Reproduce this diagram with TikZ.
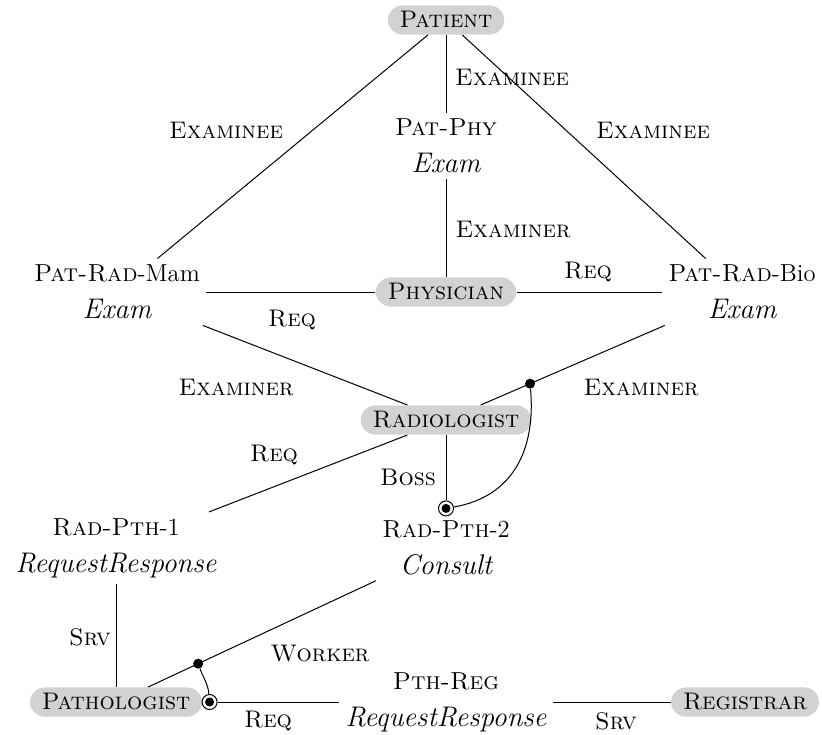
\documentclass[tikz,border=0pt]{standalone}
\usetikzlibrary{calc}
\newcommand\relit[1]{{\fontsize{14.2}{18.5}\selectfont\itshape #1}}
\begin{document}
\begin{tikzpicture}[x=0.5pt,y=-0.5pt,
  role/.style={fill=gray!35, rounded corners=7.5pt, inner xsep=6pt, inner ysep=2.8pt,
    text height=8.4pt, text depth=0.6pt, font=\fontsize{12}{14}\selectfont},
  rel/.style={align=center, inner sep=3pt, font=\fontsize{12.3}{18.5}\selectfont},
  lbl/.style={inner sep=1pt, font=\fontsize{12}{14}\selectfont},
  conn/.style={line width=0.5pt},
  dotmark/.style={circle, fill=black, inner sep=0pt, minimum size=5pt},
  ringmark/.style={circle, draw=black, line width=0.5pt, inner sep=0pt, minimum size=7.5pt}]
\useasboundingbox (0,0) rectangle (822,734);
% nodes
\node[role] (pat) at (446,20) {\textsc{Patient}};
\node[rel] (patphy) at (446,146) {\textsc{Pat-Phy}\\\relit{Exam}};
\node[role] (phys) at (446,292) {\textsc{Physician}};
\node[rel] (mam) at (117,292) {\textsc{Pat-Rad}-Mam\\\relit{Exam}};
\node[rel] (bio) at (742,292) {\textsc{Pat-Rad}-Bio\\\relit{Exam}};
\node[role] (rad) at (446,420) {\textsc{Radiologist}};
\node[rel] (rp1) at (116,548) {\textsc{Rad-Pth}-1\\\relit{RequestResponse}};
\node[rel] (rp2) at (446,548) {\textsc{Rad-Pth}-2\\\relit{Consult}};
\node[role] (path) at (116,702) {\textsc{Pathologist}};
\node[rel] (pthreg) at (446,702) {\textsc{Pth-Reg}\\\relit{RequestResponse}};
\node[role] (reg) at (745,702) {\textsc{Registrar}};
% ring markers
\node[ringmark] (c1) at ($(rp2.north)+(0,-6)$) {};
\node[ringmark] (c2) at ($(path.east)+(7,0)$) {};
% connectors
\draw[conn] (pat) -- (patphy) node[lbl] at (512,77) {\textsc{Examinee}};
\draw[conn] (pat) -- (mam) node[lbl] at (226,130) {\textsc{Examinee}};
\draw[conn] (pat) -- (bio) node[lbl] at (653,130) {\textsc{Examinee}};
\draw[conn] (patphy) -- (phys) node[lbl] at (513,230) {\textsc{Examiner}};
\draw[conn] (phys) -- (mam) node[lbl] at (292,320) {\textsc{Req}};
\draw[conn] (phys) -- (bio) node[lbl] at (588,272) {\textsc{Req}};
\draw[conn] (mam) -- (rad) node[lbl] at (236,387) {\textsc{Examiner}};
\draw[conn] (bio) -- (rad) node[lbl] at (641,387) {\textsc{Examiner}};
\draw[conn] (rad) -- (rp1) node[lbl] at (274,455) {\textsc{Req}};
\draw[conn] (rad) -- (c1) node[lbl] at (408,477) {\textsc{Boss}};
\draw[conn] (rp1) -- (path) node[lbl] at (90,637) {\textsc{Srv}};
\draw[conn] (rp2) -- (path) node[lbl] at (320,654) {\textsc{Worker}};
\draw[conn] (c2) -- (pthreg) node[lbl] at (268,721) {\textsc{Req}};
\draw[conn] (pthreg) -- (reg) node[lbl] at (616,721) {\textsc{Srv}};
% dots on connectors and their arcs
\node[dotmark] (d1) at ($(bio)!0.716!(rad)$) {};
\node[dotmark] (d2) at ($(rp2)!0.751!(path)$) {};
\draw[conn] (d1) to[out=-85,in=10,looseness=1.1] (c1);
\draw[conn] (d2) to[out=-70,in=95] (c2);
\fill (c1) circle[radius=2.25pt];
\fill (c2) circle[radius=2.25pt];
\end{tikzpicture}
\end{document}
